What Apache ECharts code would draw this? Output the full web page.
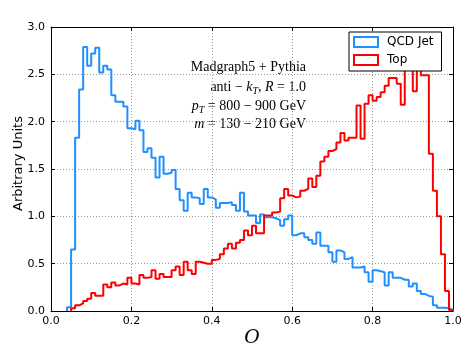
<!DOCTYPE html>
<html>
<head>
<meta charset="utf-8">
<script src="https://cdn.jsdelivr.net/npm/echarts@6/dist/echarts.min.js"></script>
<style>
html,body{margin:0;padding:0;background:#fff;}
#histChart{width:473px;height:357px;}
</style>
</head>
<body>
<div id="histChart"></div>
<script>
// bins: 100 bins of width 0.01 on [0,1]
var binStart = 0;
var binWidth = 0.01;
var seriesNames = ['QCD Jet', 'Top'];
var xTicks = [0, 0.2, 0.4, 0.6, 0.8, 1.0];
var yTicks = [0, 0.5, 1.0, 1.5, 2.0, 2.5, 3.0];

var qcdJet = [
    0, 0, 0, 0, 0.04, 0.65, 1.83, 2.34, 2.79, 2.59,
    2.72, 2.78, 2.52, 2.59, 2.55, 2.28, 2.21, 2.21, 2.16, 1.93,
    1.92, 2.01, 1.91, 1.68, 1.72, 1.62, 1.41, 1.63, 1.45, 1.46,
    1.49, 1.29, 1.17, 1.06, 1.25, 1.20, 1.19, 1.13, 1.29, 1.20,
    1.18, 1.09, 1.14, 1.14, 1.15, 1.12, 1.06, 1.25, 1.05, 1.01,
    1.01, 0.93, 1.02, 0.99, 0.99, 0.98, 0.96, 0.90, 0.97, 1.01,
    0.80, 0.82, 0.82, 0.78, 0.75, 0.71, 0.83, 0.69, 0.69, 0.62,
    0.52, 0.64, 0.62, 0.55, 0.57, 0.46, 0.46, 0.47, 0.41, 0.31,
    0.43, 0.42, 0.41, 0.27, 0.41, 0.35, 0.35, 0.33, 0.33, 0.26,
    0.29, 0.21, 0.18, 0.16, 0.15, 0.06, 0.035, 0.035, 0.03, 0.01
];
var topQuark = [
    0, 0, 0, 0, 0, 0.03, 0.06, 0.08, 0.105, 0.13,
    0.19, 0.16, 0.16, 0.28, 0.25, 0.30, 0.27, 0.29, 0.28, 0.35,
    0.29, 0.28, 0.38, 0.35, 0.36, 0.43, 0.34, 0.39, 0.36, 0.36,
    0.43, 0.47, 0.38, 0.52, 0.43, 0.39, 0.52, 0.51, 0.50, 0.50,
    0.54, 0.55, 0.60, 0.66, 0.71, 0.66, 0.72, 0.75, 0.85, 0.80,
    0.90, 0.82, 0.82, 1.01, 1.01, 1.04, 1.05, 1.19, 1.29, 1.22,
    1.20, 1.21, 1.27, 1.29, 1.40, 1.31, 1.43, 1.58, 1.63, 1.69,
    1.71, 1.78, 1.88, 1.80, 1.83, 1.83, 2.17, 1.82, 2.19, 2.28,
    2.22, 2.26, 2.31, 2.38, 2.46, 2.46, 2.40, 2.18, 2.56, 2.62,
    2.32, 2.62, 2.49, 2.49, 1.66, 1.27, 1.00, 0.60, 0.21, 0.01
];

function binEdge(i) {
    return +(binStart + i * binWidth).toFixed(4);
}
// outline of a step histogram: up from 0 at the first filled bin, down to 0 at the end
function stepOutline(vals) {
    var first = 0;
    while (first < vals.length && vals[first] === 0) first++;
    var pts = [[binEdge(first), 0]];
    for (var i = first; i < vals.length; i++) {
        pts.push([binEdge(i), vals[i]]);
    }
    pts.push([binEdge(vals.length), vals[vals.length - 1]]);
    pts.push([binEdge(vals.length), 0]);
    return pts;
}

var blue = '#1e90ff';
var red = '#ff0000';
var tickFont = 'DejaVu Sans';
var serif = 'Liberation Serif';

var frameAxis = {
    axisLine: {onZero: false, lineStyle: {color: '#000', width: 1}},
    axisTick: {inside: true, length: 4, lineStyle: {color: '#000', width: 1}}
};
var gridLine = {show: true, lineStyle: {color: '#9a9a9a', width: 1, type: [1, 2]}};
var mathRich = {
    i: {fontStyle: 'italic', fontSize: 14, fontFamily: serif},
    s: {fontStyle: 'italic', fontSize: 10, fontFamily: serif, padding: [8, 0, 0, 0]}
};

var histChart = echarts.init(document.getElementById('histChart'), null, {renderer: 'canvas'});
var histOption = {
    animation: false,
    backgroundColor: '#fff',
    grid: {left: 51, right: 20, top: 27, bottom: 46},
    legend: {
        z: 20,
        orient: 'vertical',
        left: 349,
        top: 32,
        padding: [4, 8, 5, 4],
        itemGap: 6,
        itemWidth: 24,
        itemHeight: 10,
        icon: 'rect',
        backgroundColor: '#fff',
        borderColor: '#000',
        borderWidth: 1,
        borderRadius: 0,
        textStyle: {color: '#000', fontSize: 12, fontFamily: tickFont, padding: [0, 0, 0, 4]},
        data: [
            {name: seriesNames[0], itemStyle: {color: '#fff', borderColor: blue, borderWidth: 2}},
            {name: seriesNames[1], itemStyle: {color: '#fff', borderColor: red, borderWidth: 2}}
        ]
    },
    xAxis: [
        {
            type: 'value', position: 'bottom', min: xTicks[0], max: xTicks[xTicks.length - 1], interval: 0.2,
            axisLine: frameAxis.axisLine, axisTick: frameAxis.axisTick,
            axisLabel: {
                color: '#000', fontSize: 11, fontFamily: tickFont, margin: 5,
                formatter: function (v) { return v.toFixed(1); }
            },
            splitLine: gridLine
        },
        {
            type: 'value', position: 'top', min: xTicks[0], max: xTicks[xTicks.length - 1], interval: 0.2,
            axisLine: frameAxis.axisLine, axisTick: frameAxis.axisTick,
            axisLabel: {show: false}, splitLine: {show: false}
        }
    ],
    yAxis: [
        {
            type: 'value', position: 'left', min: yTicks[0], max: yTicks[yTicks.length - 1], interval: 0.5,
            axisLine: frameAxis.axisLine, axisTick: frameAxis.axisTick,
            axisLabel: {
                color: '#000', fontSize: 11, fontFamily: tickFont, margin: 6,
                formatter: function (v) { return v.toFixed(1); }
            },
            splitLine: gridLine
        },
        {
            type: 'value', position: 'right', min: yTicks[0], max: yTicks[yTicks.length - 1], interval: 0.5,
            axisLine: frameAxis.axisLine, axisTick: frameAxis.axisTick,
            axisLabel: {show: false}, splitLine: {show: false}
        }
    ],
    graphic: [
        {
            type: 'text', x: 12, y: 211, rotation: Math.PI / 2,
            style: {text: 'Arbitrary Units', font: '13px "DejaVu Sans"', fill: '#000'}
        },
        {
            type: 'text', x: 252, y: 338,
            style: {text: 'O', font: 'italic 19px "DejaVu Serif"', fill: '#000', align: 'center', verticalAlign: 'middle'}
        },
        {
            type: 'text', x: 306, y: 67,
            style: {text: 'Madgraph5 + Pythia', font: '14px "' + serif + '"', fill: '#000', align: 'right', verticalAlign: 'middle'}
        },
        {
            type: 'text', x: 306, y: 87,
            style: {
                text: 'anti − {i|k}{s|T}, {i|R} = 1.0',
                font: '14px "' + serif + '"', fill: '#000', align: 'right', verticalAlign: 'middle',
                rich: mathRich
            }
        },
        {
            type: 'text', x: 306, y: 106,
            style: {
                text: '{i|p}{s|T} = 800 − 900 GeV',
                font: '14px "' + serif + '"', fill: '#000', align: 'right', verticalAlign: 'middle',
                rich: mathRich
            }
        },
        {
            type: 'text', x: 306, y: 124,
            style: {
                text: '{i|m} = 130 − 210 GeV',
                font: '14px "' + serif + '"', fill: '#000', align: 'right', verticalAlign: 'middle',
                rich: mathRich
            }
        }
    ],
    series: [
        {
            name: seriesNames[0], type: 'line', step: 'end', showSymbol: false, z: 2,
            lineStyle: {color: blue, width: 2}, itemStyle: {color: blue},
            data: stepOutline(qcdJet)
        },
        {
            name: seriesNames[1], type: 'line', step: 'end', showSymbol: false, z: 2,
            lineStyle: {color: red, width: 2}, itemStyle: {color: red},
            data: stepOutline(topQuark)
        }
    ]
};
histChart.setOption(histOption);
window.onresize = histChart.resize;
</script>
</body>
</html>
